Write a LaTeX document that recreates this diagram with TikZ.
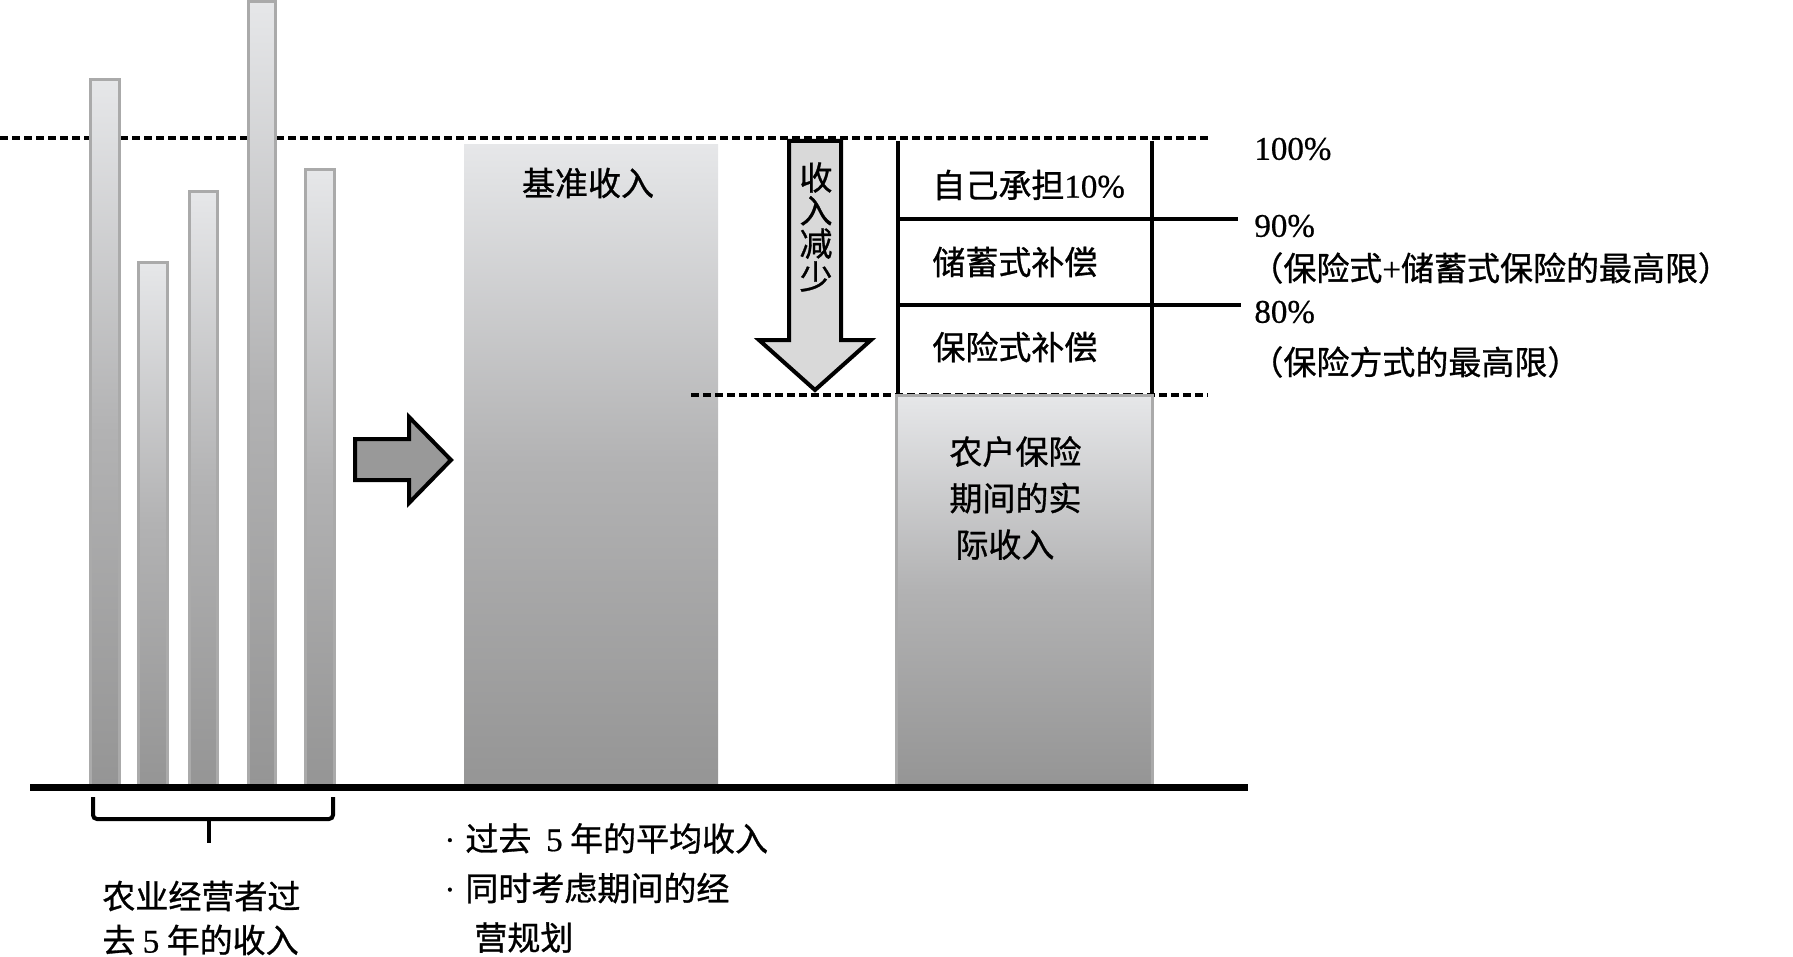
\documentclass[tikz,border=0pt]{standalone}
\usepackage{fontspec}
\setmainfont{Liberation Serif}[FakeBold=0.6]
\newfontfamily\zhfont{Noto Sans CJK SC}[FakeBold=0.9]
\usepackage{tikz}
\definecolor{barline}{RGB}{170,170,170}
\definecolor{shadetop}{RGB}{230,231,233}
\definecolor{shademid}{RGB}{178,178,179}
\definecolor{shadebot}{RGB}{149,149,149}
\definecolor{arrowgray}{RGB}{153,153,153}
\definecolor{arrowlight}{RGB}{217,217,217}

\begin{document}
\begin{tikzpicture}[x=0.5pt,y=-0.5pt,
  txt/.style={inner sep=0pt,font=\fontsize{16.5}{20}\selectfont},
  zh/.style={inner sep=0pt,align=left,font=\zhfont\fontsize{16.5}{#1}\selectfont},
  zh/.default=20,
  greyfill/.style={top color=shadetop,bottom color=shadebot,middle color=shademid},
  bar/.style={greyfill,draw=barline,line width=1.5pt},
  level/.style={dash pattern=on 4pt off 2pt,line width=1.8pt},
  rule/.style={line width=2pt}]
\useasboundingbox (0,0) rectangle (1793,957);

% 100% level
\draw[level] (0,138) -- (1208,138);

% past 5 years
\path[bar] (90.5,79.5) rectangle (119.5,785);
\path[bar] (138.5,263) rectangle (167.5,785);
\path[bar] (189.5,192) rectangle (217.5,785);
\path[bar] (248,1.5) rectangle (275.5,785);
\path[bar] (305.5,169.5) rectangle (334.5,785);

% reference income
\path[greyfill] (464,145) rectangle (718,785);
\path (588,183) node(base) [zh]{基准收入};

\draw[line width=2pt,fill=arrowgray] (355,439) -- (409,439) -- (409,417) -- (451,460)
  -- (409,503) -- (409,480) -- (355,480) -- cycle;

% fall of income
\draw[level] (691,395) -- (1208,395);
\draw[line width=2pt,fill=arrowlight] (789,141) -- (841,141) -- (841,340) -- (871,340)
  -- (815,390) -- (759,340) -- (789,340) -- cycle;
\path (816,227) node(fall) [zh=16.5,align=center]{收\\入\\减\\少};

% actual income
\path[bar] (896.5,395.5) rectangle (1152.5,785);
\path (949,498) node(actual) [zh=23.25,anchor=west]{农户保险\\期间的实\\\hspace*{3pt}际收入};

\draw[rule] (898,141) -- (898,394);
\draw[rule] (1152,141) -- (1152,394);
\draw[rule] (898,219) -- (1238,219);
\draw[rule] (898,305) -- (1241,305);
\path (932,185) node(self) [zh,anchor=west]{自己承担{\rmfamily 10\%}};
\path (932,262) node(saving) [zh,anchor=west]{储蓄式补偿};
\path (932,347) node(insur) [zh,anchor=west]{保险式补偿};

\path (1254,149) node(p100) [txt,anchor=west]{100\%};
\path (1254,226) node(p90) [txt,anchor=west]{90\%};
\path (1250,268) node(max90) [zh,anchor=west]{（保险式{\rmfamily +}储蓄式保险的最高限）};
\path (1254,312) node(p80) [txt,anchor=west]{80\%};
\path (1250,362) node(max80) [zh,anchor=west]{（保险方式的最高限）};

% ground
\draw[line width=3.5pt] (30,787) -- (1248,787);
\draw[line width=2pt,rounded corners=2pt] (93,797) -- (93,819) -- (333,819) -- (333,797);
\draw[line width=2pt] (209,819) -- (209,843);

\path (102,918) node(past) [zh=22,anchor=west]{农业经营者过\\去 {\rmfamily 5} 年的收入};
\path (444,888) node(note) [zh=24.75,anchor=west]{{\rmfamily\makebox[10.5pt][l]{·}}过去\ \ {\rmfamily 5} 年的平均收入\\
{\rmfamily\makebox[10.5pt][l]{·}}同时考虑期间的经\\
\hspace*{15pt}营规划};
\end{tikzpicture}
\end{document}
